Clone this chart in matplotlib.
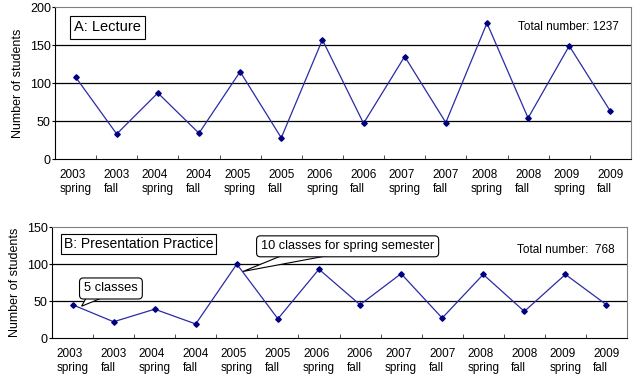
import numpy as np
import matplotlib.pyplot as plt
from matplotlib.patches import Polygon

plt.rcParams['font.family'] = ['Liberation Sans', 'DejaVu Sans']

# Data
semesters = ['2003\nspring', '2003\nfall', '2004\nspring', '2004\nfall',
             '2005\nspring', '2005\nfall', '2006\nspring', '2006\nfall',
             '2007\nspring', '2007\nfall', '2008\nspring', '2008\nfall',
             '2009\nspring', '2009\nfall']
lecture = [108, 33, 87, 34, 115, 28, 157, 47, 135, 48, 179, 54, 149, 63]
presentation = [45, 22, 39, 19, 100, 26, 93, 45, 87, 27, 86, 36, 86, 45]

line_color = '#2b2ba6'
marker_color = '#000080'


def style_axes(ax, values, ymax):
    x = np.arange(len(values)) + 0.5
    ax.plot(x, values, color=line_color, lw=0.9, marker='D', ms=2.8,
            mfc=marker_color, mec=marker_color, zorder=3)
    ax.set_xlim(0, len(values))
    ax.set_ylim(0, ymax)
    ax.set_yticks(np.arange(0, ymax + 1, 50))
    for yv in np.arange(50, ymax, 50):
        ax.axhline(yv, color='black', lw=0.9, zorder=1)
    ax.set_xticks(x)
    ax.set_xticklabels(semesters, fontsize=8.5, linespacing=1.3,
                       multialignment='left')
    ax.tick_params(axis='x', which='major', length=0, pad=7)
    ax.set_xticks(np.arange(1, len(values)), minor=True)
    ax.tick_params(axis='x', which='minor', direction='in', length=3,
                   color='#333333')
    ax.tick_params(axis='y', length=2, labelsize=9, pad=1)
    ax.set_ylabel('Number of students', fontsize=9, labelpad=4)
    for side in ['left', 'bottom']:
        ax.spines[side].set_color('black')
    for side in ['top', 'right']:
        ax.spines[side].set_color('#808080')


def callout(ax, text, tip, base, xytext, fontsize):
    # pointer triangle from the box bottom to the marked point
    ax.add_patch(Polygon([tip, base[0], base[1]], closed=True, fc='white',
                         ec='black', lw=0.8, zorder=4))
    ax.text(xytext[0], xytext[1], text, fontsize=fontsize, va='center',
            ha='left', zorder=5,
            bbox=dict(boxstyle='round,pad=0.35,rounding_size=0.3',
                      fc='white', ec='black', lw=0.8))


fig = plt.figure(figsize=(6.35, 3.76), dpi=100)

ax1 = fig.add_axes([0.0866, 0.577, 0.907, 0.404])
style_axes(ax1, lecture, 200)
ax1.text(0.033, 0.868, 'A: Lecture', transform=ax1.transAxes, fontsize=10.5,
         va='center', ha='left',
         bbox=dict(boxstyle='square,pad=0.3', fc='white', ec='black', lw=0.8))
ax1.text(0.979, 0.868, 'Total number: 1237', transform=ax1.transAxes,
         fontsize=8.5, va='center', ha='right')

ax2 = fig.add_axes([0.0819, 0.101, 0.9055, 0.295])
style_axes(ax2, presentation, 150)
ax2.text(0.021, 0.85, 'B: Presentation Practice', transform=ax2.transAxes,
         fontsize=10, va='center', ha='left',
         bbox=dict(boxstyle='square,pad=0.2', fc='white', ec='black', lw=0.8))
ax2.text(0.979, 0.79, 'Total number:  768', transform=ax2.transAxes,
         fontsize=8.5, va='center', ha='right')

callout(ax2, '5 classes', tip=(0.72, 43), base=[(0.85, 56), (1.29, 56)],
        xytext=(0.78, 67), fontsize=9.3)
callout(ax2, '10 classes for spring semester', tip=(4.65, 90),
        base=[(5.62, 112), (6.77, 112)], xytext=(5.09, 124), fontsize=9.2)

fig.savefig('out.png', dpi=100)
